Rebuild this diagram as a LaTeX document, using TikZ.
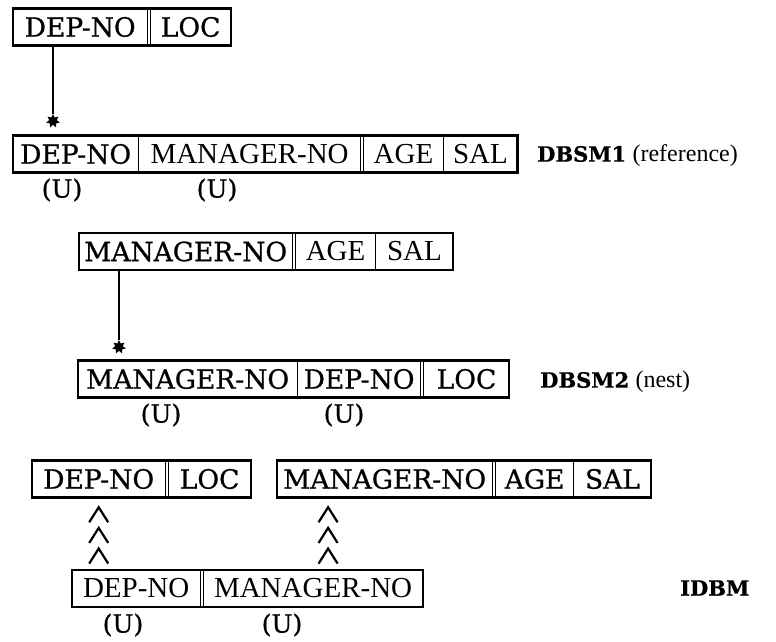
\documentclass[tikz,border=0pt]{standalone}
\usepackage{fontspec}
\newfontfamily\dbfont[FakeBold=0.8]{DejaVu Serif}
\newfontfamily\tmfont{Liberation Serif}
\usetikzlibrary{positioning, fit, arrows.meta, shapes.geometric}

\begin{document}
\begin{tikzpicture}[
  x=1pt, y=-1pt,
  fld/.style={font=\dbfont\fontsize{26.5}{28}\selectfont, minimum height=37pt, inner sep=0pt},
  fldt/.style={font=\tmfont\fontsize{29}{31}\selectfont, minimum height=37pt, inner sep=0pt},
  rec/.style={draw, line width=2.5pt, inner sep=0pt},
  sepl/.style={line width=1.3pt},
  uq/.style={font=\dbfont\fontsize{25}{27}\selectfont},
  model/.style={font=\dbfont\bfseries\fontsize{21}{23}\selectfont, anchor=west, inner sep=0pt},
  kind/.style={font=\tmfont\fontsize{24}{26}\selectfont, anchor=base west, inner sep=0pt},
  link/.style={line width=1.4pt},
  startip/.style={star, star points=7, star point ratio=1.8, fill, inner sep=0pt,
                  minimum size=14pt},
  chev/.style={draw=white, shorten <=4pt, shorten >=5pt,
               -{Straight Barb[length=15pt,width=19pt,line width=2.2pt,sep=2.5pt,color=black]
                 Straight Barb[length=15pt,width=19pt,line width=2.2pt,sep=2.5pt,color=black]
                 Straight Barb[length=15pt,width=19pt,line width=2.2pt,sep=2.5pt,color=black]}}
]
\useasboundingbox (0,0) rectangle (776,641);

% source record
\node[fld, minimum width=134pt, anchor=west] (a1) at (13,27) {DEP-NO};
\node[fld, minimum width=80pt, right=3pt of a1] (a2) {LOC};
\node[rec, fit=(a1)(a2)] (ra) {};
\draw[sepl] (a1.north east) -- (a1.south east) (a2.north west) -- (a2.south west);

% DBSM1
\node[fld, minimum width=125pt, anchor=west] (b1) at (13,154) {DEP-NO};
\node[fldt, minimum width=222pt, right=0pt of b1] (b2) {MANAGER-NO};
\node[fldt, minimum width=79pt, right=3pt of b2] (b3) {AGE};
\node[fldt, minimum width=74pt, right=0pt of b3] (b4) {SAL};
\node[rec, fit=(b1)(b4)] (rb) {};
\draw[sepl] (b1.north east) -- (b1.south east)
  (b2.north east) -- (b2.south east) (b3.north west) -- (b3.south west)
  (b3.north east) -- (b3.south east);
\node[model] (m1) at (537,154) {DBSM1};
\node[kind] at ([xshift=6pt]m1.base east) {(reference)};
\node[uq] (u1) at (62,190) {(U)};
\node[uq] (u2) at (217,190) {(U)};

\node[startip] (s1) at (53,121) {};
\draw[link] (a1.south -| s1) -- (s1);

% manager record
\node[fld, minimum width=213pt, anchor=west] (c1) at (79,251.5) {MANAGER-NO};
\node[fldt, minimum width=80pt, right=3pt of c1] (c2) {AGE};
\node[fldt, minimum width=77pt, right=0pt of c2] (c3) {SAL};
\node[rec, fit=(c1)(c3)] (rc) {};
\draw[sepl] (c1.north east) -- (c1.south east) (c2.north west) -- (c2.south west)
  (c2.north east) -- (c2.south east);

% DBSM2
\node[fld, minimum width=219pt, anchor=west] (d1) at (78,379) {MANAGER-NO};
\node[fld, minimum width=123pt, right=0pt of d1] (d2) {DEP-NO};
\node[fld, minimum width=85pt, right=3pt of d2] (d3) {LOC};
\node[rec, fit=(d1)(d3)] (rd) {};
\draw[sepl] (d1.north east) -- (d1.south east)
  (d2.north east) -- (d2.south east) (d3.north west) -- (d3.south west);
\node[model] (m2) at (540,380) {DBSM2};
\node[kind] at ([xshift=6pt]m2.base east) {(nest)};
\node[uq] (u3) at (161,415) {(U)};
\node[uq] (u4) at (344,415) {(U)};

\node[startip] (s2) at (119,347) {};
\draw[link] (c1.south -| s2) -- (s2);

% IDBM
\node[fld, minimum width=133pt, anchor=west] (e1) at (32,479) {DEP-NO};
\node[fld, minimum width=82pt, right=3pt of e1] (e2) {LOC};
\node[rec, fit=(e1)(e2)] (re) {};
\draw[sepl] (e1.north east) -- (e1.south east) (e2.north west) -- (e2.south west);

\node[fld, minimum width=215pt, anchor=west] (f1) at (277,479) {MANAGER-NO};
\node[fld, minimum width=78pt, right=3pt of f1] (f2) {AGE};
\node[fld, minimum width=77pt, right=0pt of f2] (f3) {SAL};
\node[rec, fit=(f1)(f3)] (rf) {};
\draw[sepl] (f1.north east) -- (f1.south east) (f2.north west) -- (f2.south west)
  (f2.north east) -- (f2.south east);

\node[fldt, minimum width=128pt, anchor=west] (g1) at (72,588.5) {DEP-NO};
\node[fldt, minimum width=219pt, right=3pt of g1] (g2) {MANAGER-NO};
\node[rec, fit=(g1)(g2)] (rg) {};
\draw[sepl] (g1.north east) -- (g1.south east) (g2.north west) -- (g2.south west);
\node[model] (m3) at (680,588) {IDBM};
\node[uq] (u5) at (123,625) {(U)};
\node[uq] (u6) at (282,625) {(U)};

\draw[chev] (e1.south |- rg.north) -- (e1.south);
\draw[chev] ([xshift=15pt]g2.north) -- ([xshift=15pt]g2.north |- f1.south);

\end{tikzpicture}
\end{document}
